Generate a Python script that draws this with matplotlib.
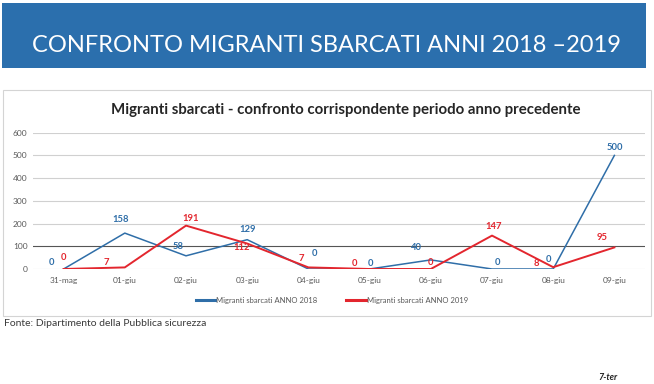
import matplotlib.pyplot as plt
from matplotlib.patches import Rectangle
from matplotlib.lines import Line2D

# data
giorni = ['31-mag', '01-giu', '02-giu', '03-giu', '04-giu',
          '05-giu', '06-giu', '07-giu', '08-giu', '09-giu']
anno_2018 = [0, 158, 58, 129, 0, 0, 40, 0, 0, 500]
anno_2019 = [0, 7, 191, 112, 7, 0, 0, 147, 8, 95]
y_ticks = [0, 100, 200, 300, 400, 500, 600]

# label offsets (points) - just styling
off_2018 = [(-8.6, 5), (-3, 10), (-6, 7), (0, 7), (4.3, 11), (0.7, 4.3), (-10, 8.6), (4, 5), (-3.6, 7), (0, 5.4)]
off_2019 = [(0, 8), (-13, 3.6), (3, 5), (-4, -3), (-5, 6.5), (-11, 4.3), (0, 5), (1.4, 6.5), (-12, 3), (-9, 7)]

BLUE = '#2f6ea8'
RED = '#e3262e'
FONT = 'Lato'

plt.rcParams['font.family'] = [FONT, 'DejaVu Sans']

W, H = 654, 384
fig = plt.figure(figsize=(W / 100, H / 100), dpi=100)
fig.patch.set_facecolor('white')

def fx(px):
    return px / W

def fy(py):
    return 1 - py / H

# banner
fig.patches.append(Rectangle((fx(2), fy(68)), fx(644), 65 / H, transform=fig.transFigure,
                             facecolor='#2b6fad', edgecolor='none', zorder=-2))
fig.text(fx(326), fy(45), 'CONFRONTO MIGRANTI SBARCATI ANNI 2018 \u20132019',
         color='white', fontsize=17, ha='center', va='center')

# chart frame
fig.patches.append(Rectangle((fx(3), fy(316)), fx(648), 226 / H, transform=fig.transFigure,
                             facecolor='white', edgecolor='#d4d4d4', linewidth=0.8, zorder=-2))
fig.text(fx(346), fy(110), 'Migranti sbarcati - confronto corrispondente periodo anno precedente',
         color='#262626', fontsize=10.8, fontweight='bold', ha='center', va='center')

ax = fig.add_axes([fx(33), fy(269), fx(612), (269 - 132.7) / H])
ax.set_zorder(2)
x = range(len(giorni))
ax.plot(x, anno_2018, color=BLUE, lw=1.1, zorder=3)
ax.plot(x, anno_2019, color=RED, lw=1.4, zorder=4)

for i, v in enumerate(anno_2018):
    ax.annotate(str(v), (i, v), xytext=off_2018[i], textcoords='offset points',
                ha='center', va='center', color=BLUE, fontsize=6.8, fontweight='bold')
for i, v in enumerate(anno_2019):
    ax.annotate(str(v), (i, v), xytext=off_2019[i], textcoords='offset points',
                ha='center', va='center', color=RED, fontsize=6.8, fontweight='bold')

ax.set_xlim(-0.5, len(giorni) - 0.5)
ax.set_ylim(0, 600)
ax.set_yticks(y_ticks)
ax.set_xticks(list(x))
ax.set_xticklabels(giorni)
for t in y_ticks:
    ax.axhline(t, color='#555555' if t == 100 else '#d0d0d0', lw=0.8, zorder=1)
for s in ax.spines.values():
    s.set_visible(False)
ax.tick_params(length=0, labelsize=6, labelcolor='#595959', pad=6)
ax.tick_params(axis='y', pad=4)
ax.set_facecolor('none')

# legend
fig.add_artist(Line2D([fx(196), fx(215)], [fy(300), fy(300)], color=BLUE, lw=2.2,
                      transform=fig.transFigure))
fig.text(fx(216), fy(300), 'Migranti sbarcati ANNO 2018', fontsize=5.5, color='#595959', va='center')
fig.add_artist(Line2D([fx(346), fx(366)], [fy(300), fy(300)], color=RED, lw=2.2,
                      transform=fig.transFigure))
fig.text(fx(367), fy(300), 'Migranti sbarcati ANNO 2019', fontsize=5.5, color='#595959', va='center')

fig.text(fx(4), fy(323), 'Fonte: Dipartimento della Pubblica sicurezza', fontsize=7.5,
         color='#3a3a3a', va='center')
fig.text(fx(617), fy(378), '7-ter', fontsize=6.5, fontweight='bold', style='italic',
         color='#222222', ha='right', va='center')

fig.savefig('out.png', dpi=100)
